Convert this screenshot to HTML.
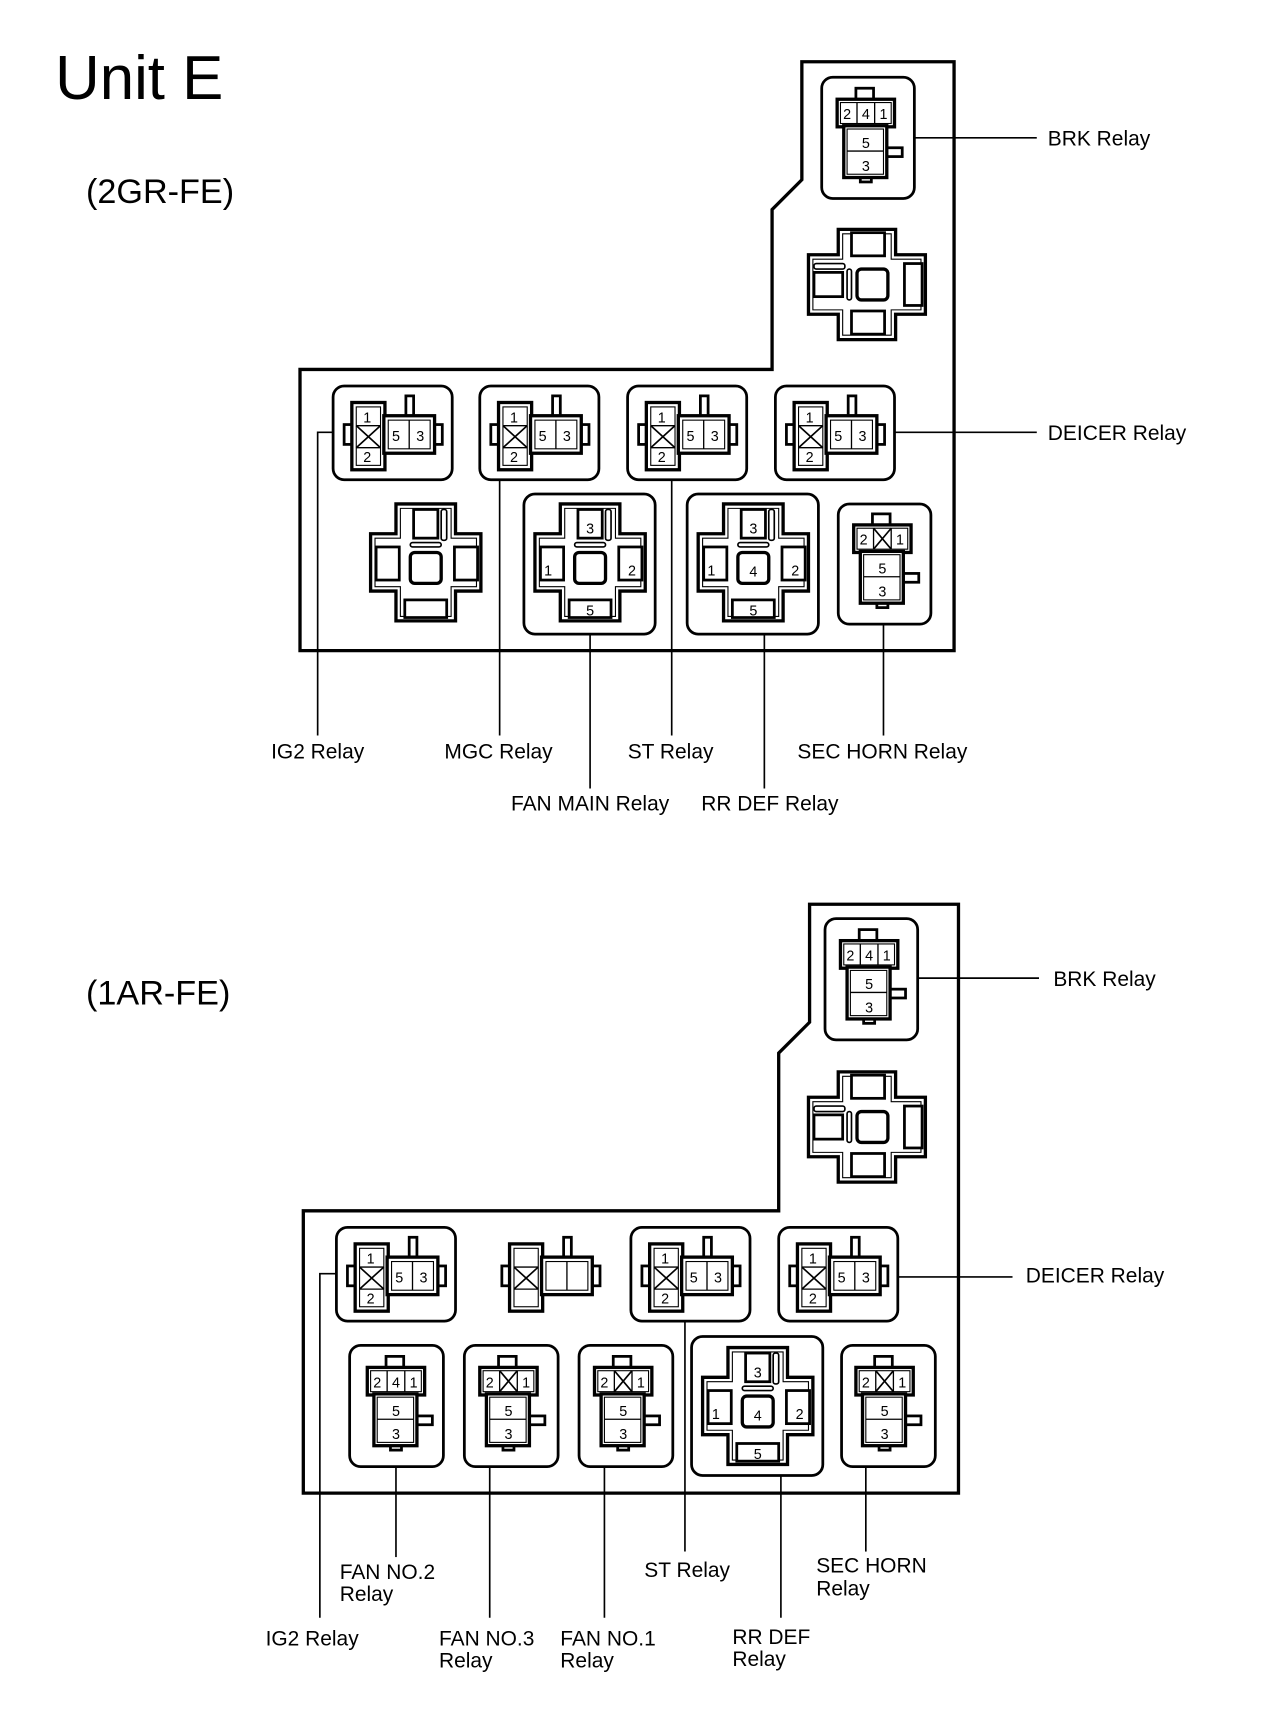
<!DOCTYPE html>
<html><head><meta charset="utf-8"><style>
html,body{margin:0;padding:0;background:#fff;}
svg{display:block;}
text{font-family:"Liberation Sans",sans-serif;fill:#000;}
.n{font-size:13px;text-anchor:middle;}
.l{font-size:19px;}
.c{text-anchor:middle;}
</style></head><body>
<svg width="1264" height="1728" viewBox="0 0 1146 1567" preserveAspectRatio="none" xmlns="http://www.w3.org/2000/svg">
<defs>
<g id="hconn" fill="#fff" stroke="#000">
 <rect x="10" y="35" width="7" height="18" stroke-width="2.5"/>
 <rect x="92" y="35" width="7" height="18" stroke-width="2.5"/>
 <rect x="66" y="9" width="7" height="19" stroke-width="2.5"/>
 <rect x="17" y="15" width="30" height="61" stroke-width="3"/>
 <rect x="46" y="27" width="46" height="34" stroke-width="3"/>
 <rect x="21" y="19" width="22" height="53" stroke-width="1"/>
 <line x1="21" y1="36" x2="43" y2="36" stroke-width="1.2"/>
 <line x1="21" y1="56" x2="43" y2="56" stroke-width="1.2"/>
 <line x1="21" y1="36" x2="43" y2="56" stroke-width="1.5"/>
 <line x1="43" y1="36" x2="21" y2="56" stroke-width="1.5"/>
 <rect x="50" y="31" width="38" height="26" stroke-width="1"/>
 <line x1="69" y1="31" x2="69" y2="57" stroke-width="1.2"/>
</g>
<g id="vconn" fill="#fff" stroke="#000">
 <rect x="31" y="10" width="16" height="12" stroke-width="2.5"/>
 <rect x="35" y="88" width="10" height="7" stroke-width="2.5"/>
 <rect x="58" y="64" width="15" height="8" stroke-width="2.5"/>
 <rect x="14" y="20" width="52" height="25" stroke-width="3"/>
 <rect x="20" y="44" width="39" height="47" stroke-width="3"/>
 <rect x="17" y="23" width="46" height="19" stroke-width="1"/>
 <line x1="32" y1="23" x2="32" y2="42" stroke-width="1.2"/>
 <line x1="48" y1="23" x2="48" y2="42" stroke-width="1.2"/>
 <rect x="23" y="47" width="33" height="41" stroke-width="1"/>
 <line x1="23" y1="67" x2="56" y2="67" stroke-width="1.2"/>
</g>
<g id="vx" stroke="#000" stroke-width="1.5">
 <line x1="32" y1="23" x2="48" y2="42"/><line x1="48" y1="23" x2="32" y2="42"/>
</g>
<g id="cross" fill="#fff" stroke="#000">
 <path d="M-27,-53 H27 V-26 H50 V26 H27 V53 H-27 V26 H-50 V-26 H-27 Z" stroke-width="3"/>
 <path d="M-23,-49 H23 V-22 H46 V22 H23 V49 H-23 V22 H-46 V-22 H-23 Z" stroke-width="1"/>
 <rect x="-11" y="-48" width="22" height="26" stroke-width="2.5"/>
 <rect x="14" y="-48" width="5" height="28" rx="2" stroke-width="1.5"/>
 <rect x="-45" y="-14" width="21" height="30" stroke-width="2.5"/>
 <rect x="26" y="-14" width="21" height="30" stroke-width="2.5"/>
 <rect x="-19" y="34" width="38" height="16" stroke-width="2.5"/>
 <rect x="-14" y="-18" width="28" height="4" rx="2" stroke-width="1.5"/>
 <rect x="-14" y="-9" width="28" height="28" rx="4" stroke-width="3"/>
</g>
</defs>

<text x="50" y="90" style="font-size:56px">Unit E</text>
<text x="78" y="184" style="font-size:31px">(2GR-FE)</text>
<text x="78" y="911" style="font-size:31px">(1AR-FE)</text>

<!-- TOP SECTION -->
<path d="M272,335 H700 V190 L727,163 V56 H865 V590 H272 Z" fill="none" stroke="#000" stroke-width="3"/>
<rect x="745" y="70" width="84" height="110" rx="10" fill="none" stroke="#000" stroke-width="2.5"/>
<use href="#vconn" x="745" y="70"/>
<text class="n" x="768" y="108">2</text><text class="n" x="785" y="108">4</text><text class="n" x="801" y="108">1</text>
<text class="n" x="785" y="134">5</text><text class="n" x="785" y="155">3</text>
<use href="#cross" transform="translate(786,258) rotate(-90)"/>

<g>
<rect x="302" y="350" width="108" height="85" rx="10" fill="none" stroke="#000" stroke-width="2.5"/>
<use href="#hconn" x="302" y="350"/>
<text class="n" x="333" y="383">1</text><text class="n" x="333" y="419">2</text><text class="n" x="359" y="400">5</text><text class="n" x="381" y="400">3</text>
<rect x="435" y="350" width="108" height="85" rx="10" fill="none" stroke="#000" stroke-width="2.5"/>
<use href="#hconn" x="435" y="350"/>
<text class="n" x="466" y="383">1</text><text class="n" x="466" y="419">2</text><text class="n" x="492" y="400">5</text><text class="n" x="514" y="400">3</text>
<rect x="569" y="350" width="108" height="85" rx="10" fill="none" stroke="#000" stroke-width="2.5"/>
<use href="#hconn" x="569" y="350"/>
<text class="n" x="600" y="383">1</text><text class="n" x="600" y="419">2</text><text class="n" x="626" y="400">5</text><text class="n" x="648" y="400">3</text>
<rect x="703" y="350" width="108" height="85" rx="10" fill="none" stroke="#000" stroke-width="2.5"/>
<use href="#hconn" x="703" y="350"/>
<text class="n" x="734" y="383">1</text><text class="n" x="734" y="419">2</text><text class="n" x="760" y="400">5</text><text class="n" x="782" y="400">3</text>
</g>

<use href="#cross" transform="translate(386,510)"/>
<rect x="475" y="448" width="119" height="127" rx="10" fill="none" stroke="#000" stroke-width="2.5"/>
<use href="#cross" transform="translate(535,510)"/>
<text class="n" x="535" y="484">3</text><text class="n" x="497" y="522">1</text><text class="n" x="573" y="522">2</text><text class="n" x="535" y="558">5</text>
<rect x="623" y="448" width="119" height="127" rx="10" fill="none" stroke="#000" stroke-width="2.5"/>
<use href="#cross" transform="translate(683,510)"/>
<text class="n" x="683" y="484">3</text><text class="n" x="645" y="522">1</text><text class="n" x="721" y="522">2</text><text class="n" x="683" y="558">5</text><text class="n" x="683" y="523">4</text>
<rect x="760" y="457" width="84" height="109" rx="10" fill="none" stroke="#000" stroke-width="2.5"/>
<use href="#vconn" x="760" y="456"/><use href="#vx" x="760" y="456"/>
<text class="n" x="783" y="494">2</text><text class="n" x="816" y="494">1</text>
<text class="n" x="800" y="520">5</text><text class="n" x="800" y="541">3</text>

<g stroke="#000" stroke-width="1.5" fill="none">
<line x1="829" y1="125" x2="940" y2="125"/>
<line x1="811" y1="392" x2="940" y2="392"/>
<polyline points="302,392 288,392 288,667"/>
<line x1="453" y1="435" x2="453" y2="667"/>
<line x1="609" y1="435" x2="609" y2="667"/>
<line x1="535" y1="575" x2="535" y2="715"/>
<line x1="693" y1="575" x2="693" y2="715"/>
<line x1="801" y1="566" x2="801" y2="667"/>
</g>
<text class="l" x="950" y="132">BRK Relay</text>
<text class="l" x="950" y="399">DEICER Relay</text>
<text class="l c" x="288" y="688">IG2 Relay</text>
<text class="l c" x="452" y="688">MGC Relay</text>
<text class="l c" x="608" y="688">ST Relay</text>
<text class="l c" x="800" y="688">SEC HORN Relay</text>
<text class="l c" x="535" y="735">FAN MAIN Relay</text>
<text class="l c" x="698" y="735">RR DEF Relay</text>

<!-- BOTTOM SECTION -->
<path d="M275,1098 H706 V955 L734,927 V820 H869 V1354 H275 Z" fill="none" stroke="#000" stroke-width="3"/>
<rect x="748" y="833" width="84" height="110" rx="10" fill="none" stroke="#000" stroke-width="2.5"/>
<use href="#vconn" x="748" y="833"/>
<text class="n" x="771" y="871">2</text><text class="n" x="788" y="871">4</text><text class="n" x="804" y="871">1</text>
<text class="n" x="788" y="897">5</text><text class="n" x="788" y="918">3</text>
<use href="#cross" transform="translate(786,1022) rotate(-90)"/>

<rect x="305" y="1113" width="108" height="85" rx="10" fill="none" stroke="#000" stroke-width="2.5"/>
<use href="#hconn" x="305" y="1113"/>
<text class="n" x="336" y="1146">1</text><text class="n" x="336" y="1182">2</text><text class="n" x="362" y="1163">5</text><text class="n" x="384" y="1163">3</text>
<use href="#hconn" x="445" y="1113"/>
<rect x="572" y="1113" width="108" height="85" rx="10" fill="none" stroke="#000" stroke-width="2.5"/>
<use href="#hconn" x="572" y="1113"/>
<text class="n" x="603" y="1146">1</text><text class="n" x="603" y="1182">2</text><text class="n" x="629" y="1163">5</text><text class="n" x="651" y="1163">3</text>
<rect x="706" y="1113" width="108" height="85" rx="10" fill="none" stroke="#000" stroke-width="2.5"/>
<use href="#hconn" x="706" y="1113"/>
<text class="n" x="737" y="1146">1</text><text class="n" x="737" y="1182">2</text><text class="n" x="763" y="1163">5</text><text class="n" x="785" y="1163">3</text>

<rect x="317" y="1220" width="85" height="110" rx="10" fill="none" stroke="#000" stroke-width="2.5"/>
<use href="#vconn" x="319" y="1220"/>
<text class="n" x="342" y="1258">2</text><text class="n" x="359" y="1258">4</text><text class="n" x="375" y="1258">1</text>
<text class="n" x="359" y="1284">5</text><text class="n" x="359" y="1305">3</text>
<rect x="421" y="1220" width="85" height="110" rx="10" fill="none" stroke="#000" stroke-width="2.5"/>
<use href="#vconn" x="421" y="1220"/><use href="#vx" x="421" y="1220"/>
<text class="n" x="444" y="1258">2</text><text class="n" x="477" y="1258">1</text>
<text class="n" x="461" y="1284">5</text><text class="n" x="461" y="1305">3</text>
<rect x="525" y="1220" width="85" height="110" rx="10" fill="none" stroke="#000" stroke-width="2.5"/>
<use href="#vconn" x="525" y="1220"/><use href="#vx" x="525" y="1220"/>
<text class="n" x="548" y="1258">2</text><text class="n" x="581" y="1258">1</text>
<text class="n" x="565" y="1284">5</text><text class="n" x="565" y="1305">3</text>
<rect x="627" y="1212" width="119" height="126" rx="10" fill="none" stroke="#000" stroke-width="2.5"/>
<use href="#cross" transform="translate(687,1275)"/>
<text class="n" x="687" y="1249">3</text><text class="n" x="649" y="1287">1</text><text class="n" x="725" y="1287">2</text><text class="n" x="687" y="1323">5</text><text class="n" x="687" y="1288">4</text>
<rect x="763" y="1220" width="85" height="110" rx="10" fill="none" stroke="#000" stroke-width="2.5"/>
<use href="#vconn" x="762" y="1220"/><use href="#vx" x="762" y="1220"/>
<text class="n" x="785" y="1258">2</text><text class="n" x="818" y="1258">1</text>
<text class="n" x="802" y="1284">5</text><text class="n" x="802" y="1305">3</text>

<g stroke="#000" stroke-width="1.5" fill="none">
<line x1="832" y1="887" x2="942" y2="887"/>
<line x1="815" y1="1158" x2="918" y2="1158"/>
<polyline points="305,1155 290,1155 290,1467"/>
<line x1="359" y1="1330" x2="359" y2="1412"/>
<line x1="444" y1="1330" x2="444" y2="1467"/>
<line x1="548" y1="1330" x2="548" y2="1467"/>
<line x1="621" y1="1198" x2="621" y2="1407"/>
<line x1="708" y1="1338" x2="708" y2="1467"/>
<line x1="785" y1="1330" x2="785" y2="1407"/>
</g>
<text class="l" x="955" y="894">BRK Relay</text>
<text class="l" x="930" y="1163">DEICER Relay</text>
<text class="l" x="308" y="1432">FAN NO.2</text><text class="l" x="308" y="1452">Relay</text>
<text class="l c" x="283" y="1492">IG2 Relay</text>
<text class="l" x="398" y="1492">FAN NO.3</text><text class="l" x="398" y="1512">Relay</text>
<text class="l" x="508" y="1492">FAN NO.1</text><text class="l" x="508" y="1512">Relay</text>
<text class="l c" x="623" y="1430">ST Relay</text>
<text class="l" x="664" y="1491">RR DEF</text><text class="l" x="664" y="1511">Relay</text>
<text class="l" x="740" y="1426">SEC HORN</text><text class="l" x="740" y="1447">Relay</text>
</svg>
</body></html>
